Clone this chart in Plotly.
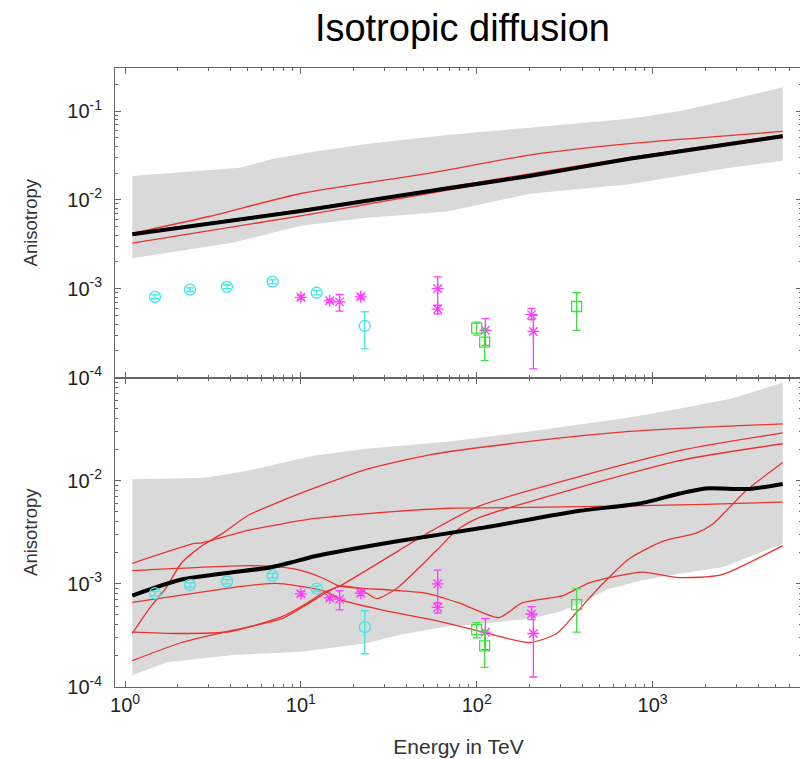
import plotly.graph_objects as go

# ---------------- data ----------------
# measurements (same in both panels)
cyan_E = [1.48, 2.34, 3.8, 6.9, 12.3, 23.1]
cyan_A = [8.1e-4, 9.75e-4, 1.05e-3, 1.2e-3, 9.0e-4, 3.8e-4]
cyan_hi = [8.5e-4, 1.02e-3, 1.1e-3, 1.26e-3, 9.5e-4, 5.5e-4]
cyan_lo = [7.7e-4, 9.3e-4, 1.0e-3, 1.14e-3, 8.5e-4, 2.1e-4]

mag_E = [10.0, 14.6, 16.6, 21.9, 60, 60, 112, 205, 210]
mag_A = [8.0e-4, 7.3e-4, 7.1e-4, 8.1e-4, 1.0e-3, 5.9e-4, 3.4e-4, 5.1e-4, 3.3e-4]
mag_hi = [8.4e-4, 7.6e-4, 8.6e-4, 8.5e-4, 1.36e-3, 6.5e-4, 4.6e-4, 6.0e-4, 5.0e-4]
mag_lo = [7.6e-4, 7.0e-4, 5.6e-4, 7.7e-4, 6.5e-4, 5.2e-4, 2.3e-4, 4.5e-4, 1.25e-4]

grn_E = [100, 111, 370]
grn_A = [3.6e-4, 2.5e-4, 6.3e-4]
grn_hi = [4.2e-4, 3.5e-4, 9.0e-4]
grn_lo = [3.0e-4, 1.55e-4, 3.4e-4]

# top panel (upper): model band, mean, individual realisations
top_band_hi_E = [1.1, 4.5, 7, 12, 25, 70, 200, 740, 1435, 2750, 4200, 5500]
top_band_hi = [1.86e-2, 2.3e-2, 2.9e-2, 3.5e-2, 4.3e-2, 5.4e-2, 6.5e-2, 8.2e-2, 0.10, 0.133, 0.162, 0.186]
top_band_lo_E = [1.1, 4.1, 10, 23.7, 54, 70, 200, 740, 2750, 5500]
top_band_lo = [2.2e-3, 3.3e-3, 5.1e-3, 6.3e-3, 7.1e-3, 7.5e-3, 1.17e-2, 1.5e-2, 2.3e-2, 2.75e-2]

top_mean_E = [1.1, 10, 70, 200, 740, 5500]
top_mean_A = [4.1e-3, 7.5e-3, 1.36e-2, 1.86e-2, 2.9e-2, 5.2e-2]

top_r1_E = [1.1, 3, 10, 54, 200, 740, 5500]
top_r1_A = [4.2e-3, 6.5e-3, 1.18e-2, 2.0e-2, 3.2e-2, 4.3e-2, 5.9e-2]
top_r2_E = [1.1, 10, 70, 740, 5500]
top_r2_A = [4.2e-3, 7.7e-3, 1.4e-2, 3.0e-2, 5.4e-2]
top_r3_E = [1.1, 10, 70, 200, 740, 5500]
top_r3_A = [3.25e-3, 6.6e-3, 1.3e-2, 1.84e-2, 2.9e-2, 5.2e-2]

# bottom panel (lower)
bot_band_hi_E = [1.1, 2.85, 5, 12, 23.7, 70, 200, 740, 1435, 2750, 5500]
bot_band_hi = [1.03e-2, 1.07e-2, 1.25e-2, 1.75e-2, 2.04e-2, 2.4e-2, 3.0e-2, 4.1e-2, 5.0e-2, 6.2e-2, 8.9e-2]
bot_band_lo_E = [1.1, 1.73, 4.1, 10, 23.7, 36, 70, 90, 200, 300, 400, 550, 850, 1430, 2500, 5500]
bot_band_lo = [1.3e-4, 1.74e-4, 2.04e-4, 2.2e-4, 2.66e-4, 3.2e-4, 3.9e-4, 4.0e-4, 4.6e-4, 5.4e-4,
               6.6e-4, 8.8e-4, 1.07e-3, 1.26e-3, 1.45e-3, 2.45e-3]

bot_mean_E = [1.1, 2.1, 6.8, 8.9, 12, 36, 104, 385, 850, 1430, 2000, 3550, 5500]
bot_mean_A = [7.7e-4, 1.1e-3, 1.45e-3, 1.62e-3, 1.85e-3, 2.6e-3, 3.45e-3, 5.1e-3, 6.0e-3, 7.5e-3,
              8.4e-3, 8.3e-3, 9.3e-3]

bot_rS_E = [1.1, 1.4, 1.7, 2.1, 2.75, 3.6, 5, 8, 12, 24, 54, 200, 740, 2000, 5500]
bot_rS_A = [3.3e-4, 6.0e-4, 9.0e-4, 1.6e-3, 2.35e-3, 3.1e-3, 4.6e-3, 6.5e-3, 8.5e-3, 1.3e-2,
            1.78e-2, 2.4e-2, 3.0e-2, 3.3e-2, 3.55e-2]
bot_rA_E = [1.1, 2.45, 2.75, 5, 12, 24, 70, 200, 740, 2000, 5500]
bot_rA_A = [1.58e-3, 2.45e-3, 2.5e-3, 3.3e-3, 4.3e-3, 4.8e-3, 5.4e-3, 5.5e-3, 5.7e-3, 5.9e-3, 6.2e-3]
bot_r1_E = [1.1, 5, 7.8, 10, 13.6, 16.6, 33, 52, 80, 134, 180, 310, 440, 870, 1400, 2450, 5500]
bot_r1_A = [1.34e-3, 1.5e-3, 1.45e-3, 1.35e-3, 1.12e-3, 9.5e-4, 8.7e-4, 8.1e-4, 6.5e-4, 4.7e-4,
            6.5e-4, 7.7e-4, 1.03e-3, 1.3e-3, 1.15e-3, 1.22e-3, 2.35e-3]
bot_r2_E = [1.1, 3.25, 6.2, 8, 13.6, 17.3, 30, 59, 90, 200, 285, 370, 520, 740, 1150, 1770, 2200,
            3400, 5500]
bot_r2_A = [6.6e-4, 8.7e-4, 1.0e-3, 1.0e-3, 8.5e-4, 6.9e-4, 5.5e-4, 4.4e-4, 3.7e-4, 2.7e-4, 3.3e-4,
            5.3e-4, 1.0e-3, 1.76e-3, 2.6e-3, 3.1e-3, 3.8e-3, 8.0e-3, 1.5e-2]
bot_rX_E = [1.1, 2, 4, 7.8, 10.5, 13.6, 16.6, 36, 56, 104, 1420, 5500]
bot_rX_A = [3.4e-4, 3.3e-4, 3.45e-4, 4.8e-4, 6.3e-4, 8.3e-4, 9.5e-4, 2.1e-3, 3.3e-3, 5.7e-3,
            1.95e-2, 2.9e-2]
bot_rY_E = [1.1, 2.1, 4.1, 7.8, 13.6, 16.6, 21.5, 27, 35, 59, 77, 104, 1420, 5500]
bot_rY_A = [1.8e-4, 2.7e-4, 3.55e-4, 4.6e-4, 8.0e-4, 9.5e-4, 9.0e-4, 7.2e-4, 9.0e-4, 2.1e-3,
            3.3e-3, 4.4e-3, 1.56e-2, 2.28e-2]

# axes ticks
x_tickvals = [1, 10, 100, 1000]
x_ticktext = ["10<sup>0</sup>", "10<sup>1</sup>", "10<sup>2</sup>", "10<sup>3</sup>"]
top_tickvals = [1e-1, 1e-2, 1e-3, 1e-4]
top_ticktext = ["10<sup>-1</sup>", "10<sup>-2</sup>", "10<sup>-3</sup>", "10<sup>-4</sup>"]
bot_tickvals = [1e-2, 1e-3, 1e-4]
bot_ticktext = ["10<sup>-2</sup>", "10<sup>-3</sup>", "10<sup>-4</sup>"]
minor_digits = [2, 3, 4, 5, 6, 7, 8, 9]
x_minor = [d * 10 ** k for k in range(0, 4) for d in minor_digits]
y_minor = [d * 10.0 ** k for k in range(-4, 0) for d in minor_digits]

# ---------------- style ----------------
BAND = "#d9d9d9"
RED = "rgb(232,52,46)"
CYAN = "#3ee6e6"
MAGENTA = "#ff3cff"
GREEN = "#3fe03f"
FONT = "Liberation Sans, Arial, sans-serif"
AXC = "#666666"

fig = go.Figure()


def add_panel(xa, ya, band_hi_E, band_hi, band_lo_E, band_lo, reds, mean_E, mean_A):
    fig.add_trace(go.Scatter(
        x=list(band_lo_E) + list(band_hi_E)[::-1],
        y=list(band_lo) + list(band_hi)[::-1],
        fill="toself", fillcolor=BAND, line=dict(width=0), mode="lines",
        hoverinfo="skip", xaxis=xa, yaxis=ya, showlegend=False))
    for E, A in reds:
        fig.add_trace(go.Scatter(x=E, y=A, mode="lines",
                                 line=dict(color=RED, width=1.3, shape="spline", smoothing=0.6),
                                 xaxis=xa, yaxis=ya, showlegend=False))
    fig.add_trace(go.Scatter(x=mean_E, y=mean_A, mode="lines",
                             line=dict(color="black", width=4, shape="spline", smoothing=0.6),
                             xaxis=xa, yaxis=ya, showlegend=False))
    for E, A, hi, lo, col, sym, sz in [
        (cyan_E, cyan_A, cyan_hi, cyan_lo, CYAN, "circle-open", 11),
        (mag_E, mag_A, mag_hi, mag_lo, MAGENTA, "asterisk-open", 10),
        (grn_E, grn_A, grn_hi, grn_lo, GREEN, "square-open", 10),
    ]:
        fig.add_trace(go.Scatter(
            x=E, y=A, mode="markers",
            marker=dict(symbol=sym, size=sz, color=col, line=dict(color=col, width=1.3)),
            error_y=dict(type="data", symmetric=False,
                         array=[h - a for h, a in zip(hi, A)],
                         arrayminus=[a - l for a, l in zip(A, lo)],
                         color=col, thickness=1.3, width=4),
            xaxis=xa, yaxis=ya, showlegend=False))


add_panel("x2", "y2", top_band_hi_E, top_band_hi, top_band_lo_E, top_band_lo,
          [(top_r1_E, top_r1_A), (top_r2_E, top_r2_A), (top_r3_E, top_r3_A)],
          top_mean_E, top_mean_A)
add_panel("x", "y", bot_band_hi_E, bot_band_hi, bot_band_lo_E, bot_band_lo,
          [(bot_rS_E, bot_rS_A), (bot_rA_E, bot_rA_A), (bot_r1_E, bot_r1_A),
           (bot_r2_E, bot_r2_A), (bot_rX_E, bot_rX_A), (bot_rY_E, bot_rY_A)],
          bot_mean_E, bot_mean_A)

axis_common = dict(
    type="log", showgrid=False, zeroline=False, showline=True, linecolor=AXC,
    linewidth=1, mirror="ticks", ticks="inside", ticklen=6, tickwidth=1,
    tickcolor=AXC, automargin=False,
    tickfont=dict(family=FONT, size=20, color="#222222"),
)
title_font_y = dict(family=FONT, size=18.5, color="#333333")

# the page body adds an 8px offset, so the figure is 8px smaller than the window
W, H = 800, 751
XR = [-0.057, 3.85]
fig.update_layout(
    width=W, height=H,
    paper_bgcolor="white", plot_bgcolor="white",
    margin=dict(l=107, r=6, t=60, b=72),
    font=dict(family=FONT, color="#222222"),
    title=dict(text="Isotropic diffusion", x=0.568, xanchor="center",
               y=1 - 20 / H, yref="container", yanchor="middle",
               font=dict(family=FONT, size=38, color="black")),
    xaxis=dict(axis_common, domain=[0, 1], range=XR, anchor="y",
               tickvals=x_tickvals, ticktext=x_ticktext,
               minor=dict(ticks="inside", ticklen=3, tickcolor=AXC, tickvals=x_minor),
               title=dict(text="Energy in TeV", font=dict(family=FONT, size=21, color="#333333"),
                          standoff=24)),
    yaxis=dict(axis_common, domain=[0, 0.5], range=[-4, -1], anchor="x",
               tickvals=bot_tickvals, ticktext=bot_ticktext, ticklabelstandoff=8,
               minor=dict(ticks="inside", ticklen=3, tickcolor=AXC, tickvals=y_minor),
               title=dict(text="Anisotropy", font=title_font_y, standoff=24)),
    xaxis2=dict(axis_common, domain=[0, 1], range=XR, anchor="y2", matches="x",
                tickvals=x_tickvals, showticklabels=False,
                minor=dict(ticks="inside", ticklen=3, tickcolor=AXC, tickvals=x_minor)),
    yaxis2=dict(axis_common, domain=[0.5, 1], range=[-4, -0.515], anchor="x2",
                tickvals=top_tickvals, ticktext=top_ticktext, ticklabelstandoff=8,
                minor=dict(ticks="inside", ticklen=3, tickcolor=AXC, tickvals=y_minor),
                title=dict(text="Anisotropy", font=title_font_y, standoff=24)),
)

fig.write_html("out.html")
